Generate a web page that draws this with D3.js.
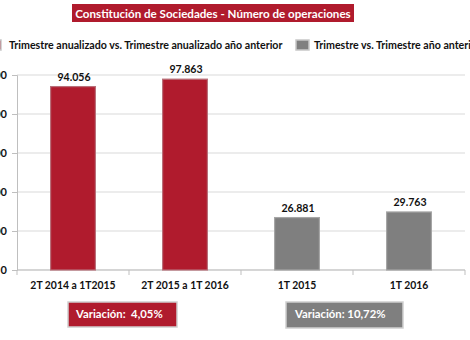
<!DOCTYPE html>
<html><head><meta charset="utf-8">
<script src="https://cdn.jsdelivr.net/npm/d3@7"></script>
<style>
html,body{margin:0;padding:0;background:#fff;overflow:hidden;}
svg{display:block;font-family:Lato,"Open Sans",sans-serif;}
</style></head>
<body>
<svg id="c" width="470" height="340"></svg>
<script>
const title = "Constitución de Sociedades - Número de operaciones";
const categories = ["2T 2014 a 1T2015", "2T 2015 a 1T 2016", "1T 2015", "1T 2016"];
const values = [94056, 97863, 26881, 29763];
const groups = ["anual", "anual", "trim", "trim"];
const legendLabels = ["Trimestre anualizado vs. Trimestre anualizado año anterior", "Trimestre vs. Trimestre año anterior"];
const yTicks = [0, 20000, 40000, 60000, 80000, 100000];
const variationLabels = ["Variación:  4,05%", "Variación: 10,72%"];

const RED = "#b01b2d", GRAY = "#7f7f7f";
const colors = {anual: RED, trim: GRAY};
const strokes = {anual: "#b9707a", trim: "#a6a6a6"};

const loc = d3.formatLocale({decimal: ",", thousands: ".", grouping: [3], currency: ["", "€"]});
const fmt = loc.format(",d");

const svg = d3.select("#c");
const x = d3.scaleBand().domain(categories).range([17, 465]).paddingInner(0.6).paddingOuter(0.3);
const y = d3.scaleLinear().domain([0, 100000]).range([270, 75]);

// title
svg.append("rect").attr("x", 72).attr("y", 4).attr("width", 282).attr("height", 18).attr("fill", RED);
svg.append("text").attr("x", 213).attr("y", 17.5).attr("text-anchor", "middle")
  .attr("fill", "#fff").attr("font-weight", "bold").attr("font-size", 11.6).text(title);

// legend
const leg = [{x: -12, c: RED, t: legendLabels[0], tx: 9}, {x: 296, c: GRAY, t: legendLabels[1], tx: 314}];
leg.forEach(l => {
  svg.append("rect").attr("x", l.x).attr("y", 40).attr("width", 13).attr("height", 10)
    .attr("fill", l.c).attr("stroke", "#c8c8c8").attr("stroke-width", 1.5);
  svg.append("text").attr("x", l.tx).attr("y", 48.5).attr("font-weight", "bold")
    .attr("font-size", 10.65).attr("fill", "#111").text(l.t);
});

// grid
svg.append("g").selectAll("line").data(yTicks).join("line")
  .attr("x1", 17).attr("x2", 465).attr("y1", d => y(d)).attr("y2", d => y(d))
  .attr("stroke", "#d9d9d9").attr("stroke-width", 1);

// y axis
const ya = svg.append("g").attr("transform", "translate(17,0)")
  .call(d3.axisLeft(y).tickValues(yTicks).tickFormat(fmt).tickSize(5).tickPadding(5));
ya.select(".domain").attr("stroke", "#bfbfbf");
ya.selectAll(".tick line").attr("stroke", "#bfbfbf");
ya.selectAll("text").attr("font-weight", "bold").attr("font-size", 11).attr("fill", "#111")
  .attr("font-family", "Lato,sans-serif");

// x axis baseline with boundary ticks
svg.append("line").attr("x1", 17).attr("x2", 465).attr("y1", y(0)).attr("y2", y(0)).attr("stroke", "#bfbfbf");
const bounds = categories.map(c => x(c) - x.step() * x.paddingInner() / 2).concat([465]);
svg.append("g").selectAll("line").data(bounds).join("line")
  .attr("x1", d => d).attr("x2", d => d).attr("y1", y(0)).attr("y2", y(0) + 5).attr("stroke", "#bfbfbf");
svg.append("g").selectAll("text").data(categories).join("text")
  .attr("x", d => x(d) + x.bandwidth() / 2).attr("y", 289).attr("text-anchor", "middle")
  .attr("font-weight", "bold").attr("font-size", 10.4).attr("fill", "#111").text(d => d);

// bars
const data = categories.map((c, i) => ({c, v: values[i], g: groups[i]}));
svg.append("g").selectAll("rect").data(data).join("rect")
  .attr("x", d => x(d.c)).attr("width", x.bandwidth())
  .attr("y", d => y(d.v)).attr("height", d => y(0) - y(d.v))
  .attr("fill", d => colors[d.g]).attr("stroke", d => strokes[d.g]).attr("stroke-width", 1.2);
svg.append("g").selectAll("text").data(data).join("text")
  .attr("x", d => x(d.c) + x.bandwidth() / 2 + 1).attr("y", d => y(d.v) - 6).attr("text-anchor", "middle")
  .attr("font-weight", "bold").attr("font-size", 10.6).attr("fill", "#111").text(d => fmt(d.v));

// variation boxes
const vb = [{x: 68, y: 302, w: 109, h: 25, c: RED, t: variationLabels[0], tx: 76},
            {x: 286, y: 302, w: 117, h: 26, c: GRAY, t: variationLabels[1], tx: 295}];
vb.forEach(b => {
  svg.append("rect").attr("x", b.x).attr("y", b.y).attr("width", b.w).attr("height", b.h)
    .attr("fill", b.c).attr("stroke", "#d0d0d0").attr("stroke-width", 1.5);
  svg.append("text").attr("x", b.tx).attr("y", 318).attr("fill", "#fff")
    .attr("font-weight", "bold").attr("font-size", 11.3).style("white-space", "pre").text(b.t);
});
</script>
</body></html>
